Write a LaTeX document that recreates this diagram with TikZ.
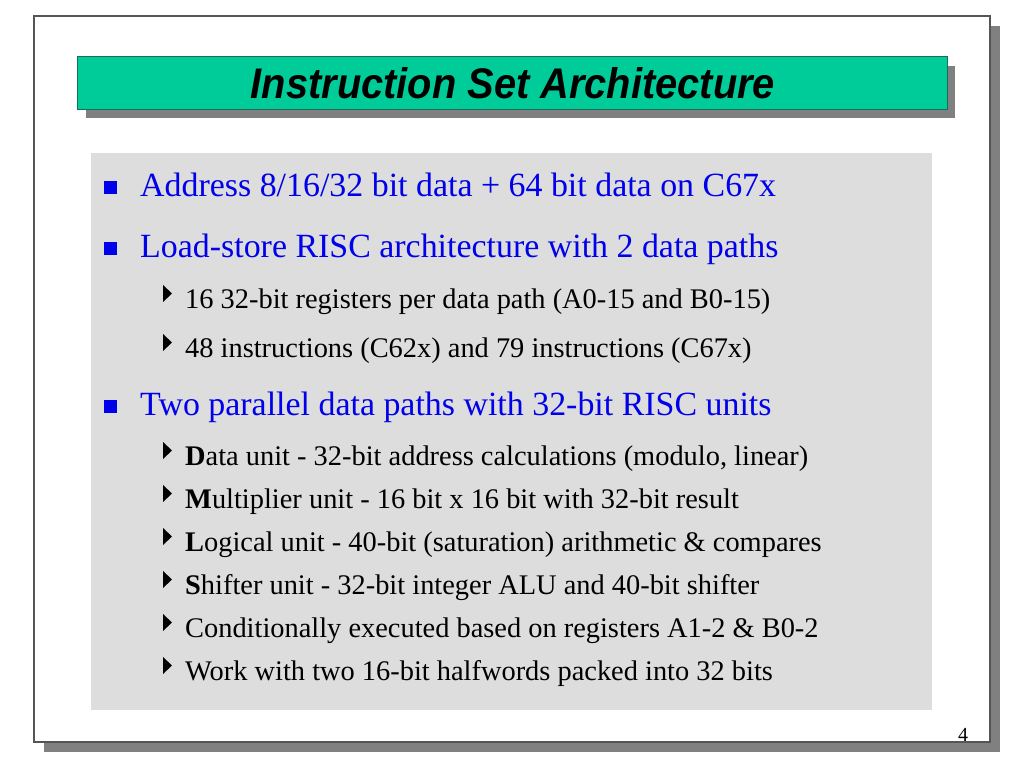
\documentclass[tikz,border=0pt]{standalone}
\usepackage{fontspec}
\setmainfont{Liberation Serif}
\newfontfamily\titlefont[FakeStretch=0.93]{Liberation Sans}
\definecolor{teal1}{HTML}{00CC99}
\definecolor{tealedge}{HTML}{1A6B5A}
\definecolor{shadowgray}{HTML}{808080}
\definecolor{boxgray}{HTML}{DDDDDD}
\definecolor{bulblue}{RGB}{0,0,235}
\definecolor{framegray}{HTML}{555555}
\tikzset{
  lvlone/.style={anchor=base west, inner sep=0pt, text=bulblue, font=\fontsize{33.9}{40}\selectfont},
  lvltwo/.style={anchor=base west, inner sep=0pt, text=black, font=\fontsize{28.4}{34}\selectfont},
  sqbullet/.style={fill=bulblue},
  tribullet/.style={fill=black},
}
\newcommand{\mysq}[1]{\fill[sqbullet] (103.5,#1-15) rectangle (116.5,#1-2);}
\newcommand{\mytri}[1]{\fill[tribullet] (163,#1-23) -- (172,#1-14.5) -- (163,#1-6) -- cycle;}
\begin{document}
\begin{tikzpicture}[x=1pt,y=-1pt]
\useasboundingbox (0,0) rectangle (1024,768);
\fill[white] (0,0) rectangle (1024,768);
% outer frame with shadow
\fill[shadowgray] (44,26) rectangle (1000,752);
\filldraw[fill=white, draw=framegray, line width=1.2pt] (34,16) rectangle (990,742);
% title bar
\fill[shadowgray] (86,66) rectangle (955,118);
\filldraw[fill=teal1, draw=tealedge, line width=1pt] (77,57) rectangle (947,109);
\node[anchor=base, inner sep=0pt, font=\titlefont\bfseries\itshape\fontsize{42.8}{48}\selectfont] (title) at (513,98) {Instruction Set Architecture};
% content box
\fill[boxgray] (91,153) rectangle (932,710);
% level 1
\mysq{196}
\node[lvlone] (l1a) at (140,196) {Address 8/16/32 bit data + 64 bit data on C67x};
\mysq{257}
\node[lvlone] (l1b) at (140,257) {Load-store RISC architecture with 2 data paths};
\mytri{308}
\node[lvltwo] (l2a) at (185,308) {16 32-bit registers per data path (A0-15 and B0-15)};
\mytri{357}
\node[lvltwo] (l2b) at (185,357) {48 instructions (C62x) and 79 instructions (C67x)};
\mysq{415}
\node[lvlone] (l1c) at (140,415) {Two parallel data paths with 32-bit RISC units};
\mytri{465}
\node[lvltwo] (l2c) at (185,465) {\textbf{D}ata unit - 32-bit address calculations (modulo, linear)};
\mytri{508}
\node[lvltwo] (l2d) at (185,508) {\textbf{M}ultiplier unit - 16 bit x 16 bit with 32-bit result};
\mytri{551}
\node[lvltwo] (l2e) at (185,551) {\textbf{L}ogical unit - 40-bit (saturation) arithmetic \& compares};
\mytri{594}
\node[lvltwo] (l2f) at (185,594) {\textbf{S}hifter unit - 32-bit integer ALU and 40-bit shifter};
\mytri{637}
\node[lvltwo] (l2g) at (185,637) {Conditionally executed based on registers A1-2 \& B0-2};
\mytri{680}
\node[lvltwo] (l2h) at (185,680) {Work with two 16-bit halfwords packed into 32 bits};
% page number
\node[anchor=base, inner sep=0pt, font=\fontsize{20}{24}\selectfont] (pnum) at (963,741) {4};
\end{tikzpicture}
\end{document}
